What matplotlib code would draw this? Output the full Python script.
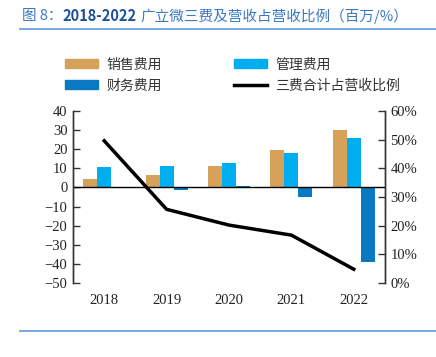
import matplotlib
matplotlib.use('Agg')
import matplotlib.pyplot as plt
import numpy as np
from matplotlib.patches import Patch
from matplotlib.lines import Line2D

plt.rcParams['font.family'] = ['Noto Sans CJK SC', 'DejaVu Sans']

# 数据 (百万 / %)
years = ['2018', '2019', '2020', '2021', '2022']
sales_fee = [4.4, 6.6, 11.2, 19.4, 29.9]
admin_fee = [10.8, 11.4, 12.9, 18.2, 26.0]
finance_fee = [0.0, -1.2, 0.6, -4.9, -39.2]
fee_ratio = [49.6, 25.7, 20.2, 16.7, 4.8]

c_sales = '#D6A25A'
c_admin = '#00AEEF'
c_fin = '#0A78C2'
c_title = '#3A78C2'

fig = plt.figure(figsize=(4.36, 3.57), dpi=100)
ax = fig.add_axes([73/436, 1-283/357, (385-73)/436, (283-111)/357])
ax2 = ax.twinx()

x = np.arange(len(years))
w = 0.225
ax.bar(x - w, sales_fee, w, color=c_sales, zorder=2)
ax.bar(x, admin_fee, w, color=c_admin, zorder=2)
ax.bar(x + w, finance_fee, w, color=c_fin, zorder=2)
ax.axhline(0, color='black', lw=1.0, zorder=3)

ax2.plot(x, np.array(fee_ratio) / 100, color='black', lw=2.5, zorder=4)

ax.set_xlim(-0.5, 4.5)
ax.set_ylim(-50, 40)
ax.set_yticks(range(-50, 41, 10))
ax2.set_ylim(0, 0.6)
ax2.set_yticks(np.arange(0, 0.61, 0.1))
ax2.set_yticklabels([f'{int(round(v*100))}%' for v in np.arange(0, 0.61, 0.1)])
ax.set_xticks(x, years)

serif = 'Liberation Serif'
for a in (ax, ax2):
    for s in ('top', 'bottom'):
        a.spines[s].set_visible(False)
    for s in ('left', 'right'):
        a.spines[s].set_color('#333333')
        a.spines[s].set_linewidth(1.0)
    a.tick_params(axis='y', direction='in', length=5, width=1, colors='#333333',
                  labelsize=10.5, labelcolor='#222222', pad=4)
    for lbl in a.get_yticklabels():
        lbl.set_family(serif)
ax.tick_params(axis='x', length=0, pad=8, labelsize=10.5, labelcolor='#222222')
for lbl in ax.get_xticklabels():
    lbl.set_family(serif)
ax.set_zorder(ax2.get_zorder() - 1)
ax.patch.set_visible(False)

# 图例 (按列填充, 所以顺序调整)
handles = [Patch(color=c_sales), Patch(color=c_fin),
           Patch(color=c_admin), Line2D([], [], color='black', lw=2.5)]
labels = ['销售费用', '财务费用', '管理费用', '三费合计占营收比例']
fig.legend(handles, labels, ncol=2, loc='upper left',
           bbox_to_anchor=(52/436, 1-45/357), frameon=False,
           fontsize=10, handlelength=2.4, handleheight=0.6,
           columnspacing=5.2, handletextpad=0.6, labelspacing=0.5,
           labelcolor='#333333')

# 标题
t1 = fig.text(22/436, 1-16/357, '图 8：', color=c_title, fontsize=10.5,
              va='center', ha='left')
fig.canvas.draw()
bb = t1.get_window_extent()
t2 = fig.text(bb.x1 / fig.bbox.width, 1-16/357, '2018-2022', color='#1F4E99',
              fontsize=10.5, fontweight='bold', va='center', ha='left')
fig.canvas.draw()
bb = t2.get_window_extent()
fig.text(bb.x1 / fig.bbox.width + 0.008, 1-16/357, '广立微三费及营收占营收比例（百万/%）',
         color=c_title, fontsize=10.5, va='center', ha='left')

fig.add_artist(Line2D([20/436, 1], [1-29/357, 1-29/357], color='#5B9BD5', lw=1.2))
fig.add_artist(Line2D([20/436, 1], [1-331/357, 1-331/357], color='#5B9BD5', lw=1.2))

fig.savefig('out.png', dpi=100)
